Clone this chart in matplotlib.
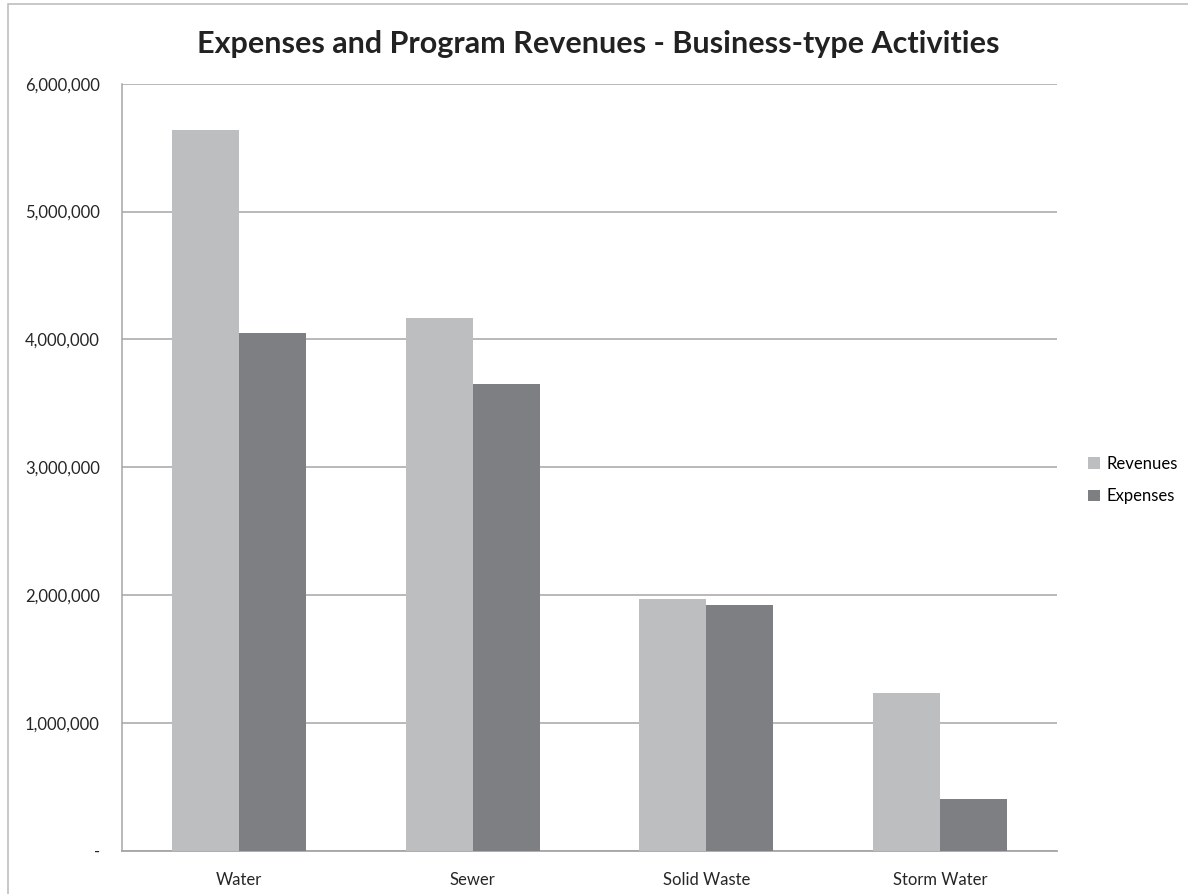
import matplotlib.pyplot as plt
import numpy as np
from matplotlib.patches import Rectangle
from matplotlib.ticker import FuncFormatter

plt.rcParams['font.family'] = ['Lato', 'DejaVu Sans']

categories = ['Water', 'Sewer', 'Solid Waste', 'Storm Water']
revenues = [5640000, 4165000, 1966000, 1230000]
expenses = [4050000, 3650000, 1919000, 407000]

light = '#bdbec0'
dark = '#7e7f83'
grid_col = '#a6a6a6'

fig = plt.figure(figsize=(11.88, 8.94), dpi=100)
# chart border (Excel chart area)
fig.patches.append(Rectangle((8 / 1188, -0.05), 1.2, (894 - 4) / 894 + 0.05,
                             transform=fig.transFigure, fill=False,
                             edgecolor='#bfbfbf', linewidth=1.2))

ax = fig.add_axes([122 / 1188, (894 - 850.7) / 894,
                   (1057 - 122) / 1188, (850.7 - 83.7) / 894])

x = np.arange(len(categories))
w = 0.287
ax.bar(x - w / 2, revenues, w, color=light, label='Revenues', zorder=3)
ax.bar(x + w / 2, expenses, w, color=dark, label='Expenses', zorder=3)

ax.set_xlim(-0.5, len(categories) - 0.5)
ax.set_ylim(0, 6000000)
ax.set_yticks(np.arange(0, 6000001, 1000000))
ax.yaxis.set_major_formatter(FuncFormatter(lambda v, p: '-' if v == 0 else f'{int(v):,}'))
ax.yaxis.grid(True, color=grid_col, linewidth=1.1, zorder=0)
ax.set_xticks(x)
ax.set_xticklabels(categories)
ax.tick_params(axis='both', length=0, labelsize=12, colors='#262626')
ax.tick_params(axis='y', pad=16)
ax.tick_params(axis='x', pad=15)

for s in ['top', 'right']:
    ax.spines[s].set_visible(False)
ax.spines['left'].set_color(grid_col)
ax.spines['bottom'].set_color(grid_col)
ax.spines['left'].set_linewidth(1.1)
ax.spines['bottom'].set_linewidth(1.3)

fig.text((197 + 1000) / 2 / 1188, (894 - 44) / 894,
         'Expenses and Program Revenues - Business-type Activities',
         ha='center', va='center', fontsize=22, fontweight='bold', color='#222222')

fig.legend(loc='center left', bbox_to_anchor=(1073 / 1188, (894 - 480) / 894),
           frameon=False, fontsize=12, handlelength=0.7, handleheight=0.7,
           handletextpad=0.4, labelspacing=1.0)

fig.savefig('out.png', dpi=100)
